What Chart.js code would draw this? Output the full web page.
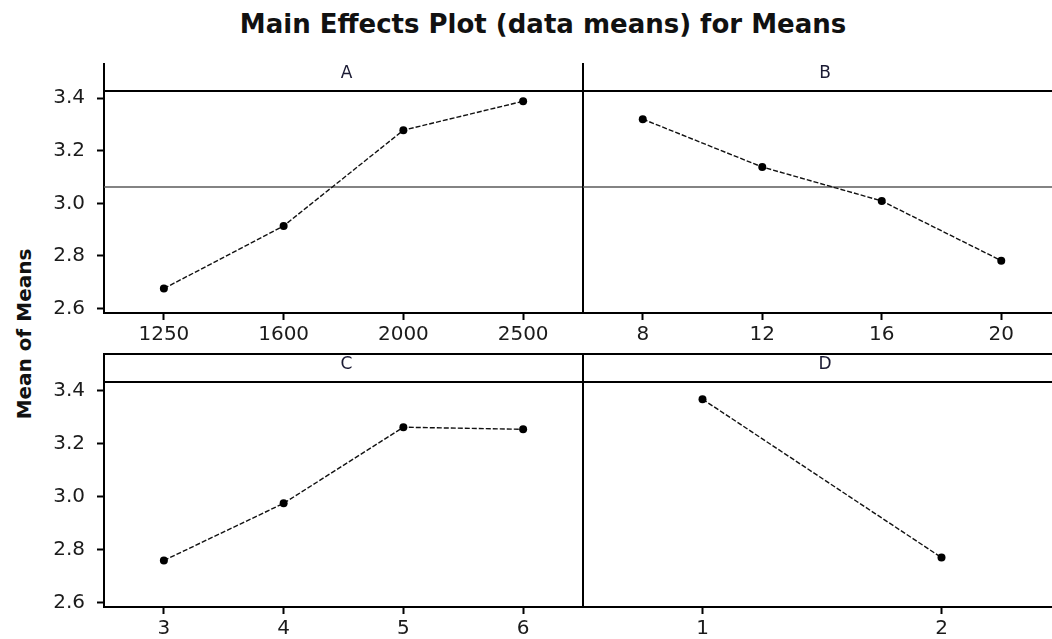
<!DOCTYPE html>
<html>
<head>
<meta charset="utf-8">
<script src="https://cdn.jsdelivr.net/npm/chart.js@4.4.1/dist/chart.umd.min.js"></script>
<style>
  html, body { margin: 0; padding: 0; background: #fff; }
  #wrap { position: relative; width: 1052px; height: 639px; overflow: hidden; background: #fff; }
  canvas { position: absolute; }
  #title { position: absolute; left: 0; width: 1086px; top: 9px; line-height: 30px; text-align: center;
           font: bold 26px "DejaVu Sans", sans-serif; color: #111; white-space: nowrap; }
  #ylab { position: absolute; left: -76px; top: 322px; width: 200px; line-height: 24px; text-align: center;
          font: bold 20px "DejaVu Sans", sans-serif; color: #111; transform: rotate(-90deg); white-space: nowrap; }
</style>
</head>
<body>
<div id="wrap">
  <div id="title"></div>
  <div id="ylab"></div>
  <canvas id="cA" width="593" height="350" style="left:0px;top:0px;width:593px;height:350px"></canvas>
  <canvas id="cB" width="500" height="350" style="left:573px;top:0px;width:500px;height:350px"></canvas>
  <canvas id="cC" width="593" height="299" style="left:0px;top:340px;width:593px;height:299px"></canvas>
  <canvas id="cD" width="500" height="299" style="left:573px;top:340px;width:500px;height:299px"></canvas>
</div>
<script>
// ---- data ----
const titleText = 'Main Effects Plot (data means) for Means';
const yAxisLabel = 'Mean of Means';
const yTickValues = [2.6, 2.8, 3.0, 3.2, 3.4];
const grandMean = 3.062;

const factorA = 'A';
const levelsA = ['1250', '1600', '2000', '2500'];
const meansA = [2.676, 2.914, 3.278, 3.388];

const factorB = 'B';
const levelsB = ['8', '12', '16', '20'];
const meansB = [3.320, 3.138, 3.009, 2.782];

const factorC = 'C';
const levelsC = ['3', '4', '5', '6'];
const meansC = [2.759, 2.975, 3.263, 3.255];

const factorD = 'D';
const levelsD = ['1', '2'];
const meansD = [3.369, 2.770];

document.getElementById('title').textContent = titleText;
document.getElementById('ylab').textContent = yAxisLabel;

// ---- panel plugin: header strip, frame lines, grand-mean reference ----
const panelPlugin = {
  id: 'panelStrip',
  beforeDatasetsDraw(chart, args, o) {
    if (!o.showMean) return;
    const { ctx, chartArea } = chart;
    const y = Math.round(chart.scales.y.getPixelForValue(grandMean));
    ctx.save();
    ctx.strokeStyle = '#5a5a5a';
    ctx.lineWidth = 1.5;
    ctx.beginPath();
    ctx.moveTo(chartArea.left, y);
    ctx.lineTo(chartArea.right, y);
    ctx.stroke();
    ctx.restore();
  },
  afterDraw(chart, args, o) {
    const { ctx, chartArea } = chart;
    const { left, right, top } = chartArea;
    const stripTop = top - o.stripHeight;
    ctx.save();
    ctx.strokeStyle = '#000';
    ctx.lineWidth = 2;
    ctx.beginPath();
    ctx.moveTo(left - 1, top);
    ctx.lineTo(right, top);
    ctx.moveTo(left, stripTop);
    ctx.lineTo(left, top);
    if (o.topBorder) {
      ctx.moveTo(left - 1, stripTop);
      ctx.lineTo(right, stripTop);
    }
    ctx.stroke();
    ctx.fillStyle = '#1a1a33';
    ctx.font = '17px "DejaVu Sans", sans-serif';
    ctx.textAlign = 'center';
    ctx.textBaseline = 'middle';
    ctx.fillText(o.letter, (left + right) / 2 + 3, stripTop + 11);
    ctx.restore();
  }
};

function makePanel(id, letter, labels, values, cfg) {
  new Chart(document.getElementById(id), {
    type: 'line',
    data: {
      labels: labels,
      datasets: [{
        data: values,
        borderColor: '#111',
        borderWidth: 1.4,
        borderDash: [5, 2],
        pointRadius: 4,
        pointBackgroundColor: '#000',
        pointBorderWidth: 0,
        tension: 0
      }]
    },
    options: {
      responsive: false,
      animation: false,
      events: [],
      layout: { padding: cfg.padding },
      plugins: {
        legend: { display: false },
        tooltip: { enabled: false },
        title: { display: false },
        panelStrip: { letter: letter, stripHeight: 28, topBorder: cfg.topBorder, showMean: cfg.showMean }
      },
      scales: {
        x: {
          type: 'category',
          offset: true,
          afterFit(s) { s.height = cfg.xHeight; },
          grid: { display: true, drawOnChartArea: false, drawTicks: true, tickLength: 7, tickWidth: 2, tickColor: '#000', offset: false },
          border: { display: true, color: '#000', width: 2 },
          ticks: { color: '#1b1b1b', padding: 3, maxRotation: 0, autoSkip: false,
                   font: { family: '"DejaVu Sans", sans-serif', size: 20 } }
        },
        y: {
          type: 'linear',
          min: cfg.yMin,
          max: cfg.yMax,
          afterFit(s) { s.width = cfg.yWidth; },
          afterBuildTicks(s) { s.ticks = yTickValues.map(v => ({ value: v })); },
          grid: { display: cfg.showYTicks, drawOnChartArea: false, drawTicks: true, tickLength: 7, tickWidth: 2, tickColor: '#000' },
          border: { display: true, color: '#000', width: 2 },
          ticks: { display: cfg.showYTicks, color: '#1b1b1b', padding: 12,
                   font: { family: '"DejaVu Sans", sans-serif', size: 20 },
                   callback: v => Number(v).toFixed(1) }
        }
      }
    },
    plugins: [panelPlugin]
  });
}

const yMin = 2.583;
makePanel('cA', factorA, levelsA, meansA, { padding: { top: 91, left: 0, right: 10, bottom: 0 }, yWidth: 104, xHeight: 37, showYTicks: true, topBorder: false, showMean: true, yMin: yMin, yMax: 3.427 });
makePanel('cB', factorB, levelsB, meansB, { padding: { top: 91, left: 10, right: 12, bottom: 0 }, yWidth: 0, xHeight: 37, showYTicks: false, topBorder: false, showMean: true, yMin: yMin, yMax: 3.427 });
makePanel('cC', factorC, levelsC, meansC, { padding: { top: 42, left: 0, right: 10, bottom: 0 }, yWidth: 104, xHeight: 32, showYTicks: true, topBorder: true, showMean: false, yMin: yMin, yMax: 3.434 });
makePanel('cD', factorD, levelsD, meansD, { padding: { top: 42, left: 10, right: 12, bottom: 0 }, yWidth: 0, xHeight: 32, showYTicks: false, topBorder: true, showMean: false, yMin: yMin, yMax: 3.434 });
</script>
</body>
</html>
